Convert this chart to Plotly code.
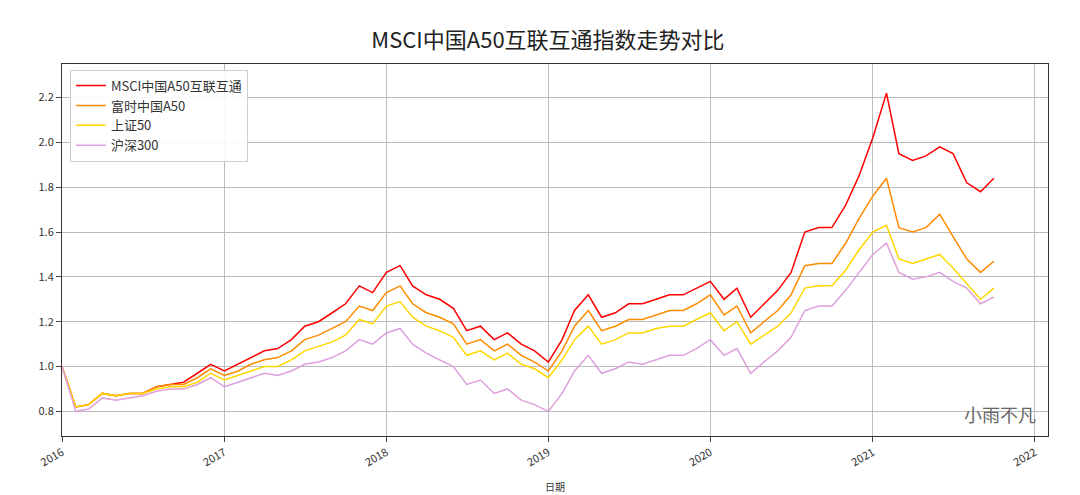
import plotly.graph_objects as go
import pandas as pd

dates = pd.date_range("2016-01-01", periods=70, freq="MS").strftime("%Y-%m-%d").tolist()

msci = [1.00,0.82,0.83,0.88,0.87,0.88,0.88,0.91,0.92,0.93,0.97,1.01,
        0.98,1.01,1.04,1.07,1.08,1.12,1.18,1.20,1.24,1.28,1.36,1.33,
        1.42,1.45,1.36,1.32,1.30,1.26,1.16,1.18,1.12,1.15,1.10,1.07,
        1.02,1.12,1.25,1.32,1.22,1.24,1.28,1.28,1.30,1.32,1.32,1.35,
        1.38,1.30,1.35,1.22,1.28,1.34,1.42,1.60,1.62,1.62,1.72,1.85,
        2.02,2.22,1.95,1.92,1.94,1.98,1.95,1.82,1.78,1.84]
ftse = [1.00,0.82,0.83,0.88,0.87,0.88,0.88,0.91,0.92,0.92,0.95,0.99,
        0.96,0.98,1.01,1.03,1.04,1.07,1.12,1.14,1.17,1.20,1.27,1.25,
        1.33,1.36,1.28,1.24,1.22,1.19,1.10,1.12,1.07,1.10,1.05,1.02,
        0.98,1.07,1.18,1.25,1.16,1.18,1.21,1.21,1.23,1.25,1.25,1.28,
        1.32,1.23,1.27,1.15,1.20,1.25,1.32,1.45,1.46,1.46,1.55,1.66,
        1.76,1.84,1.62,1.60,1.62,1.68,1.58,1.48,1.42,1.47]
sse = [1.00,0.82,0.83,0.88,0.87,0.88,0.88,0.90,0.91,0.91,0.93,0.97,
       0.94,0.96,0.98,1.00,1.00,1.03,1.07,1.09,1.11,1.14,1.21,1.19,
       1.27,1.29,1.22,1.18,1.16,1.13,1.05,1.07,1.03,1.06,1.01,0.99,
       0.95,1.03,1.12,1.18,1.10,1.12,1.15,1.15,1.17,1.18,1.18,1.21,
       1.24,1.16,1.20,1.10,1.14,1.18,1.24,1.35,1.36,1.36,1.43,1.52,
       1.60,1.63,1.48,1.46,1.48,1.50,1.44,1.37,1.30,1.35]
csi = [1.00,0.80,0.81,0.86,0.85,0.86,0.87,0.89,0.90,0.90,0.92,0.95,
       0.91,0.93,0.95,0.97,0.96,0.98,1.01,1.02,1.04,1.07,1.12,1.10,
       1.15,1.17,1.10,1.06,1.03,1.00,0.92,0.94,0.88,0.90,0.85,0.83,
       0.80,0.88,0.98,1.05,0.97,0.99,1.02,1.01,1.03,1.05,1.05,1.08,
       1.12,1.05,1.08,0.97,1.02,1.07,1.13,1.25,1.27,1.27,1.34,1.42,
       1.50,1.55,1.42,1.39,1.40,1.42,1.38,1.35,1.28,1.31]

names = ["MSCI中国A50互联互通", "富时中国A50", "上证50", "沪深300"]
colors = ["#ff0000", "#ff8c00", "#ffd700", "#dda0dd"]

fig = go.Figure()
for n, v, c in zip(names, [msci, ftse, sse, csi], colors):
    fig.add_trace(go.Scatter(x=dates, y=v, name=n, mode="lines", line=dict(color=c, width=1.5)))

fig.update_layout(
    width=1080, height=495, paper_bgcolor="white", plot_bgcolor="white",
    margin=dict(l=54, r=40, t=56, b=58),
    title=dict(text="MSCI中国A50互联互通指数走势对比", x=0.5, y=0.95, xanchor="center",
               font=dict(family="Noto Sans CJK SC", size=22, color="#222")),
    font=dict(family="Noto Sans CJK SC", size=11, color="#333"),
    legend=dict(x=0.008, y=0.985, xanchor="left", yanchor="top", bgcolor="rgba(255,255,255,0.9)",
                bordercolor="#ccc", borderwidth=1, font=dict(size=13)),
    xaxis=dict(range=["2016-01-01", "2022-01-31"], showgrid=True, gridcolor="#bbb",
               tickformat="%Y", dtick="M12", tick0="2016-01-01", tickangle=-30,
               showline=True, linecolor="#333", mirror=True, ticks="outside",
               title=dict(text="日期", font=dict(size=10))),
    yaxis=dict(range=[0.69, 2.35], dtick=0.2, tickformat=".1f", showgrid=True, gridcolor="#bbb",
               showline=True, linecolor="#333", mirror=True, ticks="outside"),
)
fig.add_annotation(text="小雨不凡", xref="paper", yref="paper", x=0.99, y=0.02, showarrow=False,
                   xanchor="right", yanchor="bottom", font=dict(size=18, color="#666"))
fig.write_html("out.html")
